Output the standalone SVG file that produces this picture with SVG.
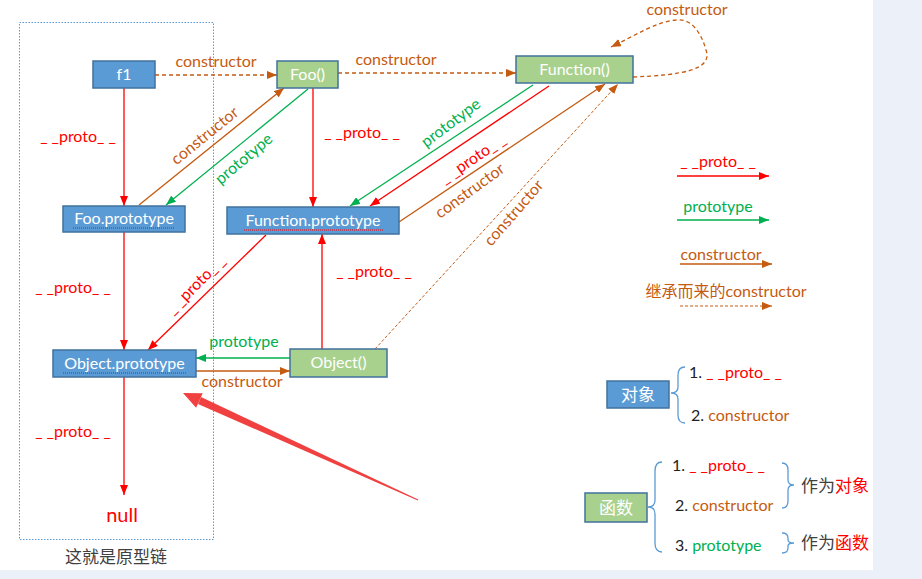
<svg xmlns="http://www.w3.org/2000/svg" width="922" height="579" viewBox="0 0 922 579">
<defs>
<style>
.t{font-family:Lato,"Liberation Sans","Noto Sans CJK SC",sans-serif;font-size:16px}
.cjk{font-family:"Noto Sans CJK SC",sans-serif}
.nt{fill:#fff;text-anchor:middle}
.r{fill:#FF0000}.g{fill:#00B050}.o{fill:#C55A11}.k{fill:#222}
.blue{fill:#5B9BD5;stroke:#41719C;stroke-width:1.5}
.green{fill:#A9D18E;stroke:#41719C;stroke-width:1.5}
.er{stroke:#FF0000;stroke-width:1.3;fill:none;marker-end:url(#mr)}
.eg{stroke:#00B050;stroke-width:1.3;fill:none;marker-end:url(#mg)}
.eo{stroke:#C55A11;stroke-width:1.3;fill:none;marker-end:url(#mo)}
.ed{stroke:#C55A11;stroke-width:1.3;fill:none;stroke-dasharray:4 3;marker-end:url(#mo)}
.ef{stroke:#C55A11;stroke-width:1;fill:none;stroke-dasharray:3 2;marker-end:url(#mo)}
.sp{stroke:#FF0000;stroke-width:1;stroke-dasharray:1 1;fill:none}
.br{stroke:#5B9BD5;stroke-width:1.3;fill:none}
</style>
<marker id="mr" markerUnits="userSpaceOnUse" markerWidth="10" markerHeight="8" refX="10" refY="4" orient="auto"><path d="M0,0 L10,4 L0,8 z" fill="#FF0000"/></marker>
<marker id="mg" markerUnits="userSpaceOnUse" markerWidth="10" markerHeight="8" refX="10" refY="4" orient="auto"><path d="M0,0 L10,4 L0,8 z" fill="#00B050"/></marker>
<marker id="mo" markerUnits="userSpaceOnUse" markerWidth="10" markerHeight="8" refX="10" refY="4" orient="auto"><path d="M0,0 L10,4 L0,8 z" fill="#C55A11"/></marker>
</defs>
<rect x="0" y="0" width="922" height="579" fill="#ECF0F8"/>
<rect x="0" y="0" width="873" height="570" fill="#FFFFFF"/>
<rect x="19.5" y="22.5" width="194" height="517" fill="none" stroke="#5B9BD5" stroke-width="1" stroke-dasharray="1.5 1.5"/>
<text class="cjk" x="116" y="563" font-size="17" fill="#404040" text-anchor="middle">这就是原型链</text>

<g id="connectors">
<path class="ed" d="M155,75 L277,75"/>
<text class="t o" x="216" y="67" text-anchor="middle">constructor</text>
<path class="ed" d="M338,73 L516,73"/>
<text class="t o" x="396" y="65" text-anchor="middle">constructor</text>
<path class="ed" d="M633,77 C682,75 713,70 706,50 C701,32 691,18 676,20 C656,22 636,35 611,47"/>
<text class="t o" x="687" y="15" text-anchor="middle">constructor</text>

<path class="er" d="M124,88 L124,206"/>
<text class="t r" x="78" y="142" text-anchor="middle">_ _proto_ _</text>
<path class="eo" d="M139,205 L284,88"/>
<text class="t o" transform="translate(205,136) rotate(-39)" x="0" y="5" text-anchor="middle">constructor</text>
<path class="eg" d="M308,89 L166,205"/>
<text class="t g" transform="translate(244,159) rotate(-40)" x="0" y="5" text-anchor="middle">prototype</text>
<path class="er" d="M313,88 L313,207"/>
<text class="t r" x="362" y="138" text-anchor="middle">_ _proto_ _</text>
<path class="eg" d="M533,85 L350,206"/>
<text class="t g" transform="translate(451,123) rotate(-37)" x="0" y="5" text-anchor="middle">prototype</text>
<path class="er" d="M549,86 L370,206"/>
<text class="t r" transform="translate(473,159) rotate(-34)" x="0" y="5" text-anchor="middle">_ _proto_ _</text>
<path class="eo" d="M399,222 L605,84"/>
<text class="t o" transform="translate(470,191) rotate(-36)" x="0" y="5" text-anchor="middle">constructor</text>
<path class="ef" d="M375,349 L618,84"/>
<text class="t o" transform="translate(514,213) rotate(-49)" x="0" y="5" text-anchor="middle">constructor</text>
<path class="er" d="M266,235 L148,350"/>
<text class="t r" transform="translate(196,285) rotate(-45)" x="0" y="5" text-anchor="middle">_ _proto_ _</text>
<path class="er" d="M124,232 L124,350"/>
<text class="t r" x="73" y="293" text-anchor="middle">_ _proto_ _</text>
<path class="er" d="M322,349 L322,234"/>
<text class="t r" x="374" y="277" text-anchor="middle">_ _proto_ _</text>
<path class="eg" d="M290,358 L196,358"/>
<text class="t g" x="244" y="347" text-anchor="middle">prototype</text>
<path class="eo" d="M196,371 L290,371"/>
<text class="t o" x="242" y="387" text-anchor="middle">constructor</text>
<path class="er" d="M124,377 L124,495"/>
<text class="t r" x="73" y="437" text-anchor="middle">_ _proto_ _</text>
<text class="t r" x="122" y="522" style="font-size:20px" text-anchor="middle">null</text>
<polygon points="418,500 199.4,400.5 202.7,393.2 183,393 196.1,407.8 199.4,400.5 418,500" fill="#F04040"/>
<polygon points="418.2,499.5 201,397 198,404 417.8,500.5" fill="#F04040"/>
</g>

<g id="f1"><rect class="blue" x="93" y="61" width="62" height="27"/><text class="t nt" x="124" y="80">f1</text></g>
<g id="foo"><rect class="green" x="277" y="61" width="61" height="27"/><text class="t nt" x="307.5" y="80">Foo()</text></g>
<g id="function"><rect class="green" x="516" y="56" width="117" height="27"/><text class="t nt" x="574.5" y="75">Function()</text></g>
<g id="foo-prototype"><rect class="blue" x="63" y="206" width="122" height="26"/><text class="t nt" x="124" y="224">Foo.prototype</text><path class="sp" d="M73,228 L174,228"/></g>
<g id="function-prototype"><rect class="blue" x="227" y="207" width="172" height="27"/><text class="t nt" x="313" y="226">Function.prototype</text><path class="sp" d="M244,230 L383,230"/></g>
<g id="object-prototype"><rect class="blue" x="53" y="350" width="143" height="27"/><text class="t nt" x="124.5" y="369">Object.prototype</text><path class="sp" d="M63,373 L187,373"/></g>
<g id="object"><rect class="green" x="290" y="349" width="97" height="28"/><text class="t nt" x="338.5" y="368">Object()</text></g>

<g id="legend">
<text class="t r" x="718" y="167" text-anchor="middle">_ _proto_ _</text>
<path class="er" d="M677,176 L769,176"/>
<text class="t g" x="718" y="212" text-anchor="middle">prototype</text>
<path class="eg" d="M677,220 L769,220"/>
<text class="t o" x="721" y="260" text-anchor="middle">constructor</text>
<path class="eo" d="M680,264 L772,264"/>
<text class="t o" x="726" y="297" text-anchor="middle">继承而来的constructor</text>
<path class="ef" d="M680,306 L772,306"/>
</g>

<g id="object-kind"><rect class="blue" x="607" y="381" width="62" height="27"/><text class="cjk nt" x="638" y="401" font-size="17">对象</text></g>
<g id="object-kind-list">
<path class="br" d="M685,367 Q678,367 678,375 L678,387 Q678,393 671,393 Q678,393 678,399 L678,415 Q678,423 685,423"/>
<text class="t k" x="689" y="378">1. <tspan class="r">_ _proto_ _</tspan></text>
<text class="t k" x="691" y="421">2. <tspan class="o">constructor</tspan></text>
</g>
<g id="function-kind"><rect class="green" x="585" y="493" width="62" height="29"/><text class="cjk nt" x="616" y="514" font-size="17">函数</text></g>
<g id="function-kind-list">
<path class="br" d="M662,462 Q655,462 655,471 L655,500 Q655,507 648,507 Q655,507 655,514 L655,543 Q655,552 662,552"/>
<text class="t k" x="672" y="471">1. <tspan class="r">_ _proto_ _</tspan></text>
<text class="t k" x="675" y="511">2. <tspan class="o">constructor</tspan></text>
<text class="t k" x="675" y="551">3. <tspan class="g">prototype</tspan></text>
<path class="br" d="M782,463 Q788,463 788,470 L788,480 Q788,485 794,485 Q788,485 788,490 L788,501 Q788,508 782,508"/>
<text class="cjk" x="801" y="492" font-size="17" fill="#404040">作为<tspan fill="#FF0000">对象</tspan></text>
<path class="br" d="M782,533 Q788,533 788,538 L788,540 Q788,543 794,543 Q788,543 788,546 L788,548 Q788,553 782,553"/>
<text class="cjk" x="801" y="549" font-size="17" fill="#404040">作为<tspan fill="#FF0000">函数</tspan></text>
</g>
</svg>
